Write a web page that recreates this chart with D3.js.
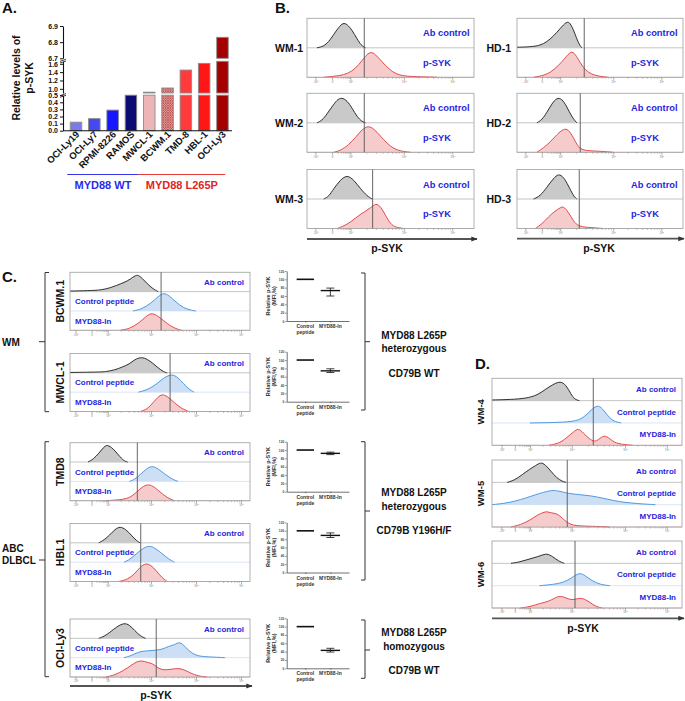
<!DOCTYPE html>
<html><head><meta charset="utf-8">
<script src="https://cdn.jsdelivr.net/npm/d3@7"></script>
<style>
body{margin:0;background:#fff}
svg{display:block}
text{font-family:Arial,"Liberation Sans",Helvetica,sans-serif;font-weight:bold}
</style>
</head><body>
<svg id="c" width="685" height="701"></svg>
<script>
// ---------------- DATA ----------------
// Panel A
const cellLines = ["OCI-Ly19","OCI-Ly7","RPMI-8226","RAMOS","MWCL-1","BCWM.1","TMD-8","HBL-1","OCI-Ly3"];
const pSykLevels = [0.12,0.17,0.29,0.50,0.92,1.02,1.45,1.61,6.83];
const barFills = ["#7b7be8","#4848f2","#1616ff","#0b0b72","#ecb6b6","url(#hatch)","#ff3c3c","#ff1616","#a40000"];
const yTicksLow = [0,0.1,0.2,0.3,0.4,0.5];
const yTicksMid = [1.0,1.2,1.4,1.6];
const yTicksTop = [6.7,6.8,6.9];
const groupWT = ["OCI-Ly19","RAMOS"];
const groupMut = ["MWCL-1","OCI-Ly3"];

// Panel B histograms ([position % of axis, relative height])
const bWM1Ab  = [[6,0],[10,0.05],[13,0.2],[16,0.45],[19,0.7],[21.6,0.85],[24,0.8],[27,0.6],[30,0.3],[32.5,0.08],[35,0]];
const bWM1Syk = [[10,0],[16,0.03],[22,0.08],[27,0.2],[31,0.42],[35,0.72],[38,0.88],[41,0.78],[45,0.52],[49,0.28],[53,0.12],[58,0.04],[66,0.02],[74,0.01],[78,0]];
const bWM2Ab  = [[6,0],[9,0.08],[12,0.3],[15,0.55],[18,0.78],[20.8,0.86],[24,0.75],[27,0.5],[30,0.2],[33,0.04],[35,0]];
const bWM2Syk = [[16,0],[20,0.06],[25,0.25],[29,0.5],[33,0.78],[36.7,0.9],[40,0.8],[44,0.55],[48,0.3],[52,0.12],[56,0.04],[62,0]];
const bWM3Ab  = [[10,0],[13,0.08],[16,0.35],[20,0.65],[24,0.82],[28,0.65],[32,0.35],[36,0.1],[39,0]];
const bWM3Syk = [[18,0],[22,0.08],[27,0.25],[31,0.45],[34.7,0.57],[38,0.7],[41.3,0.86],[44,0.75],[47,0.45],[50,0.15],[53,0.04],[58,0]];
const bHD1Ab  = [[0,0.02],[8,0.03],[14,0.08],[18,0.2],[22,0.4],[26,0.65],[29.9,0.9],[32,0.85],[34.5,0.55],[37,0.15],[39,0]];
const bHD1Syk = [[10,0],[15,0.05],[20,0.15],[25,0.4],[29,0.65],[32.5,0.9],[35,0.8],[38,0.5],[41,0.25],[45,0.1],[49,0.04],[55,0]];
const bHD2Ab  = [[12,0],[15,0.1],[18,0.35],[21,0.65],[24,0.85],[27,0.82],[30,0.55],[33,0.2],[36,0]];
const bHD2Syk = [[12,0],[16,0.15],[20,0.35],[24,0.6],[28,0.8],[31,0.78],[34,0.5],[37,0.15],[41,0.05],[50,0.04],[58,0]];
const bHD3Ab  = [[10,0],[14,0.1],[18,0.4],[22,0.7],[25,0.86],[28,0.75],[31,0.45],[34,0.1],[36,0]];
const bHD3Syk = [[11,0],[15,0.15],[19,0.4],[23,0.6],[26,0.7],[28,0.76],[31,0.55],[34,0.25],[37,0.06],[45,0.03],[52,0]];
const bGates  = [34.3,34.3,39.3,40.5,38.1,37.5];
const bNamesWM = ["WM-1","WM-2","WM-3"];
const bNamesHD = ["HD-1","HD-2","HD-3"];

// Panel C histograms
const cBCWMAb   = [[0,0.03],[10,0.05],[18,0.08],[24,0.25],[28,0.4],[32,0.55],[35,0.75],[37.5,0.9],[40,0.7],[43,0.4],[46,0.15],[49,0]];
const cBCWMCtrl = [[35,0],[40,0.1],[45,0.4],[49,0.75],[52,0.95],[55,0.8],[59,0.45],[63,0.15],[68,0.02],[70,0]];
const cBCWMMyd  = [[28,0],[33,0.08],[38,0.35],[42,0.7],[45,0.9],[48,0.8],[52,0.5],[56,0.2],[60,0.05],[62,0]];
const cMWCLAb   = [[0,0.02],[16,0.04],[20,0.06],[25,0.15],[29,0.3],[33,0.45],[36,0.7],[39.8,0.82],[43,0.7],[46,0.5],[49,0.25],[52,0.05],[54,0]];
const cMWCLCtrl = [[38,0],[43,0.12],[48,0.4],[52,0.75],[56.8,0.95],[60,0.75],[63,0.45],[66,0.15],[69,0]];
const cMWCLMyd  = [[39,0],[43,0.12],[46,0.45],[49,0.75],[51,0.9],[54,0.8],[58,0.45],[62,0.15],[66,0]];
const cTMDAb    = [[10,0],[13,0.15],[16,0.45],[19,0.8],[20.7,0.9],[24,0.7],[27,0.35],[30,0.05],[32,0]];
const cTMDCtrl  = [[33,0],[36,0.1],[39,0.35],[43,0.7],[46,0.8],[49,0.65],[53,0.35],[57,0.1],[60,0]];
const cTMDMyd   = [[20,0],[27,0.04],[33,0.12],[37,0.45],[40,0.7],[43,0.85],[46,0.78],[50,0.45],[54,0.15],[58,0]];
const cHBLAb    = [[16,0],[19,0.15],[22,0.4],[25,0.7],[27.8,0.85],[31,0.7],[34,0.4],[37,0.1],[39,0]];
const cHBLCtrl  = [[30,0],[33,0.12],[37,0.45],[41,0.75],[44,0.85],[47,0.75],[51,0.45],[55,0.15],[58,0]];
const cHBLMyd   = [[27,0],[32,0.1],[36,0.4],[39,0.75],[42,0.95],[45,0.85],[48,0.55],[51,0.2],[54,0]];
const cOCIAb    = [[16,0],[19,0.1],[22,0.3],[26,0.6],[30,0.8],[33,0.7],[36,0.4],[39,0.12],[42,0]];
const cOCICtrl  = [[30,0],[34,0.1],[38,0.3],[42,0.35],[47,0.38],[51,0.42],[55,0.6],[58,0.65],[61,0.85],[64,0.55],[68,0.2],[72,0.06],[80,0.03],[86,0]];
const cOCIMyd   = [[20,0],[25,0.1],[30,0.35],[34,0.6],[37,0.8],[40,0.85],[43,0.75],[46,0.7],[49,0.45],[52,0.35],[56,0.4],[60,0.45],[63,0.4],[67,0.2],[71,0.05],[76,0]];
const cGates    = [50.6,55.6,37.4,39.3,47.9];
const cNames    = ["BCWM.1","MWCL-1","TMD8","HBL1","OCI-Ly3"];

// Panel C dot plots (relative p-SYK, MFI %)
const dpGroups = ["Control peptide","MYD88-In"];
const dpTicks  = [0,20,40,60,80,100,120];
const relCtrl  = [100,100,100,100,100];
const relMyd   = [73,74,92,89,43];
const relLo    = [60,70,89,84,39];
const relHi    = [79,79,95,95,48];

// Panel D histograms
const dWM4Ab   = [[0,0.03],[10,0.05],[18,0.1],[24,0.25],[28,0.5],[32,0.72],[36,0.88],[39,0.7],[41.5,0.3],[43.5,0.05],[46,0]];
const dWM4Ctrl = [[20,0],[35,0.02],[45,0.08],[49,0.3],[53,0.65],[56,0.82],[59,0.55],[62,0.2],[65,0.05],[68,0]];
const dWM4Myd  = [[30,0],[36,0.1],[40,0.4],[43,0.6],[45.5,0.78],[48,0.55],[51,0.3],[54,0.15],[56,0.25],[59,0.47],[62,0.3],[65,0.08],[71,0.02],[74,0]];
const dWM5Ab   = [[8,0],[12,0.1],[16,0.35],[20,0.6],[23,0.75],[25.6,0.9],[28,0.8],[31,0.5],[34,0.2],[37,0.04],[39,0]];
const dWM5Ctrl = [[0,0],[6,0.05],[12,0.15],[18,0.3],[23,0.45],[27,0.55],[31.6,0.65],[34,0.62],[36,0.6],[40,0.5],[46,0.45],[52,0.4],[58,0.3],[64,0.18],[70,0.1],[76,0.05],[82,0.02],[86,0]];
const dWM5Myd  = [[10,0],[15,0.1],[20,0.3],[24,0.55],[27,0.65],[29,0.7],[31,0.62],[34,0.62],[37,0.4],[41,0.08],[48,0.04],[58,0.02],[62,0]];
const dWM6Ab   = [[10,0],[14,0.05],[18,0.15],[22,0.25],[26,0.35],[28.8,0.45],[32,0.3],[35,0.1],[38,0]];
const dWM6Ctrl = [[25,0],[32,0.05],[38,0.15],[42,0.35],[46,0.6],[49,0.45],[53,0.2],[57,0.05],[62,0]];
const dWM6Myd  = [[15,0],[20,0.06],[25,0.2],[30,0.3],[33,0.45],[36,0.55],[39,0.45],[42,0.35],[45,0.42],[47,0.45],[50,0.35],[53,0.15],[56,0.03],[58,0]];
const dGates   = [53.3,39.6,43.7];
const dNames   = ["WM-4","WM-5","WM-6"];

// Flow axis ticks (positions in % of axis) and labels
const flowMajorB = [5,15,26,58,87];
const flowMajorC = [3,12,21,45,70,95];
const flowMajorD = [5,12,20,42,70,92];
const flowTickLabels = ["-10³","0","10³","10⁴","10⁵","10⁶"];

// ---------------- DRAWING ----------------
const svg = d3.select("#c");
const defs = svg.append("defs");
const pat = defs.append("pattern").attr("id","hatch").attr("patternUnits","userSpaceOnUse").attr("width",2.4).attr("height",2.4);
pat.append("rect").attr("width",2.4).attr("height",2.4).attr("fill","#e9a4a4");
pat.append("path").attr("d","M0,0L2.4,2.4M2.4,0L0,2.4").attr("stroke","#b23a3a").attr("stroke-width",0.6);
defs.append("marker").attr("id","arr").attr("viewBox","0 0 10 10").attr("refX",9).attr("refY",5)
  .attr("markerWidth",3.5).attr("markerHeight",3.5).attr("orient","auto")
  .append("path").attr("d","M0,1L10,5L0,9z").attr("fill","#333");

const BLUE = "#1f1fe0";
function txt(g,x,y,s,size,opt={}) {
  return g.append("text").attr("x",x).attr("y",y).text(s).attr("font-size",size)
    .attr("fill",opt.fill||"#111").attr("text-anchor",opt.anchor||"start");
}

// Panel letters
txt(svg,2,13,"A.",15);
txt(svg,275,13,"B.",15);
txt(svg,2,282,"C.",15);
txt(svg,475,369,"D.",15);

// ===== Panel A =====
const gA = svg.append("g");
const xA = d3.scaleBand().domain(cellLines).range([66.6,231.9]).paddingInner(0.37).paddingOuter(0.2);
const segs = [
  {dom:[0,0.5], rng:[130.7,95.2], ticks:yTicksLow},
  {dom:[0.9,1.66], rng:[93,61.3], ticks:yTicksMid},
  {dom:[6.7,6.9], rng:[58.3,26], ticks:yTicksTop}
];
segs.forEach(s=>{ s.y = d3.scaleLinear().domain(s.dom).range(s.rng); });
cellLines.forEach((c,i)=>{
  const v = pSykLevels[i];
  segs.forEach(s=>{
    if (v > s.dom[0]) {
      const top = s.y(Math.min(v, s.dom[1]));
      gA.append("rect").attr("x",xA(c)).attr("width",xA.bandwidth())
        .attr("y",top).attr("height",s.y(s.dom[0])-top)
        .attr("fill",barFills[i]).attr("stroke","#8c8c8c").attr("stroke-width",0.9);
    }
  });
});
segs.forEach(s=>{
  const ax = gA.append("g").attr("transform","translate(63,0)")
    .call(d3.axisLeft(s.y).tickValues(s.ticks).tickFormat(d3.format(".1f")).tickSize(3).tickPadding(2).tickSizeOuter(0));
  ax.selectAll("text").attr("font-size",7).attr("fill","#111").attr("font-family","Arial, Liberation Sans").attr("font-weight","bold");
  ax.select(".domain").attr("stroke","#111").attr("stroke-width",1.1);
  ax.selectAll(".tick line").attr("stroke","#111");
});
// break marks
[[94.1],[59.8]].forEach(([yb])=>{
  gA.append("path").attr("d",`M60,${yb+1.5}L66,${yb-0.5}M60,${yb+3.2}L66,${yb+1.2}`).attr("stroke","#111").attr("stroke-width",0.8);
});
gA.append("line").attr("x1",63).attr("x2",232).attr("y1",130.7).attr("y2",130.7).attr("stroke","#111").attr("stroke-width",1.1);
cellLines.forEach(c=>{
  const cx = xA(c)+xA.bandwidth()/2;
  gA.append("text").attr("transform",`translate(${cx+4},${135}) rotate(-45)`)
    .attr("text-anchor","end").attr("font-size",9.5).attr("fill","#111").text(c);
});
const gx0 = xA(groupWT[0])-3, gx1 = xA(groupWT[1])+xA.bandwidth()+2;
const rx0 = xA(groupMut[0])-5, rx1 = xA(groupMut[1])+xA.bandwidth()-3;
gA.append("line").attr("x1",gx0).attr("x2",gx1).attr("y1",174.5).attr("y2",174.5).attr("stroke","#3535e6").attr("stroke-width",1.2);
gA.append("line").attr("x1",rx0).attr("x2",rx1).attr("y1",174.5).attr("y2",174.5).attr("stroke","#e33a3a").attr("stroke-width",1.2);
txt(gA,(gx0+gx1)/2,188.5,"MYD88 WT",11,{anchor:"middle",fill:"#2a2aea"});
txt(gA,(rx0+rx1)/2,188.5,"MYD88 L265P",11,{anchor:"middle",fill:"#e02424"});
gA.append("text").attr("transform","translate(20,78) rotate(-90)").attr("text-anchor","middle").attr("font-size",10.5).attr("fill","#111").text("Relative levels of");
gA.append("text").attr("transform","translate(33,78) rotate(-90)").attr("text-anchor","middle").attr("font-size",10.5).attr("fill","#111").text("p-SYK");

// ===== Flow box helper =====
const styles = {
  ab:   {fill:"#c6c6c6", stroke:"#1a1a1a", base:"#b5b5b5"},
  red:  {fill:"#f6c8c8", stroke:"#e0393b", base:"#d9b0b0"},
  blue: {fill:"#c9ddf3", stroke:"#3f8fde", base:"#cfe0f4"}
};
function flowBox(g,o){
  const x = d3.scaleLinear().domain([0,100]).range([o.x,o.x+o.w]);
  const n = o.rows.length, rh = o.h/n;
  o.rows.forEach((r,i)=>{
    const y0 = o.y + rh*(i+1);
    const y = d3.scaleLinear().domain([0,1]).range([y0,y0-rh]);
    const st = styles[r.type];
    g.append("line").attr("x1",o.x).attr("x2",o.x+o.w).attr("y1",y0).attr("y2",y0).attr("stroke",st.base).attr("stroke-width",0.8);
    g.append("path").datum(r.data).attr("fill",st.fill).attr("opacity",0.95)
      .attr("d",d3.area().x(d=>x(d[0])).y0(y0).y1(d=>y(d[1])).curve(d3.curveBasis));
    g.append("path").datum(r.data).attr("fill","none").attr("stroke",st.stroke).attr("stroke-width",0.9)
      .attr("d",d3.line().x(d=>x(d[0])).y(d=>y(d[1])).curve(d3.curveBasis));
    if (r.label) {
      const lx = r.align==="end" ? o.x+o.w-6 : (r.lx!==undefined ? x(r.lx) : o.x+5);
      txt(g,lx,y0-rh/2+o.fs*0.36,r.label,o.fs,{fill:BLUE,anchor:r.align||"start"});
    }
  });
  g.append("rect").attr("x",o.x).attr("y",o.y).attr("width",o.w).attr("height",o.h).attr("fill","none").attr("stroke","#a8a8a8").attr("stroke-width",0.9);
  g.append("line").attr("x1",x(o.gate)).attr("x2",x(o.gate)).attr("y1",o.y).attr("y2",o.y+o.h).attr("stroke","#555").attr("stroke-width",0.9);
  // axis ticks
  const majors = o.majors;
  const minors = [];
  for (let k=2;k<majors.length;k++){
    const a = majors[k-1], b = majors[k];
    for (let m=2;m<10;m++) minors.push(a + (b-a)*Math.log10(m));
  }
  const axMin = g.append("g").attr("transform",`translate(0,${o.y+o.h})`)
    .call(d3.axisBottom(x).tickValues(minors).tickSize(1.5).tickFormat(""));
  axMin.select(".domain").remove();
  axMin.selectAll(".tick line").attr("stroke","#999").attr("stroke-width",0.6);
  const axMaj = g.append("g").attr("transform",`translate(0,${o.y+o.h})`)
    .call(d3.axisBottom(x).tickValues(majors).tickSize(2.5).tickFormat((d,i)=>flowTickLabels[i]).tickPadding(1));
  axMaj.select(".domain").remove();
  axMaj.selectAll(".tick line").attr("stroke","#888").attr("stroke-width",0.7);
  axMaj.selectAll("text").attr("font-size",2.8).attr("fill","#999").attr("font-weight","normal");
}
function arrowAxis(x1,x2,y,labelX,labelY){
  svg.append("line").attr("x1",x1).attr("x2",x2).attr("y1",y).attr("y2",y).attr("stroke","#555").attr("stroke-width",1.8).attr("marker-end","url(#arr)");
  txt(svg,labelX,labelY,"p-SYK",10.5,{anchor:"middle"});
}

// ===== Panel B =====
const gB = svg.append("g");
const bLeftRows = [[bWM1Ab,bWM1Syk],[bWM2Ab,bWM2Syk],[bWM3Ab,bWM3Syk]];
const bRightRows = [[bHD1Ab,bHD1Syk],[bHD2Ab,bHD2Syk],[bHD3Ab,bHD3Syk]];
const bTops = [18.3,93.3,169.5];
bTops.forEach((t,i)=>{
  flowBox(gB,{x:307,y:t,w:167,h:59,fs:9.3,gate:bGates[i],majors:flowMajorB,
    rows:[{type:"ab",data:bLeftRows[i][0],label:"Ab control",lx:69.5},{type:"red",data:bLeftRows[i][1],label:"p-SYK",lx:69.5}]});
  txt(gB,303,t+29.5+3.8,bNamesWM[i],10.5,{anchor:"end"});
  flowBox(gB,{x:517,y:t,w:166,h:59,fs:9.3,gate:bGates[i+3],majors:flowMajorB,
    rows:[{type:"ab",data:bRightRows[i][0],label:"Ab control",lx:68.7},{type:"red",data:bRightRows[i][1],label:"p-SYK",lx:68.7}]});
  txt(gB,511,t+29.5+3.8,bNamesHD[i],10.5,{anchor:"end"});
});
arrowAxis(307,477,239,387,252);
arrowAxis(517,684,238.7,599,252);

// ===== Panel C =====
const gC = svg.append("g");
const cRows = [[cBCWMAb,cBCWMCtrl,cBCWMMyd],[cMWCLAb,cMWCLCtrl,cMWCLMyd],[cTMDAb,cTMDCtrl,cTMDMyd],[cHBLAb,cHBLCtrl,cHBLMyd],[cOCIAb,cOCICtrl,cOCIMyd]];
const cTops = [272.3,353.5,442.7,523.5,619];
cTops.forEach((t,i)=>{
  flowBox(gC,{x:70,y:t,w:180,h:58,fs:8,gate:cGates[i],majors:flowMajorC,
    rows:[{type:"ab",data:cRows[i][0],label:"Ab control",lx:74.5},
          {type:"blue",data:cRows[i][1],label:"Control peptide"},
          {type:"red",data:cRows[i][2],label:"MYD88-In"}]});
  gC.append("text").attr("transform",`translate(63.5,${t+29}) rotate(-90)`).attr("text-anchor","middle")
    .attr("font-size",10.5).attr("fill","#111").text(cNames[i]);
});
arrowAxis(70,252,686,156,699);
// left brackets
function bracketL(y1,y2,ym){
  gC.append("path").attr("d",`M49,${y1}H45V${y2}H49M45,${ym}H39`).attr("fill","none").attr("stroke","#333").attr("stroke-width",1);
}
bracketL(272.5,411.7,341.7);
bracketL(441.7,676.7,560);
txt(gC,2,345.5,"WM",10);
txt(gC,2,551.5,"ABC",10);
txt(gC,2,564,"DLBCL",10);
// right brackets & texts
function bracketR(y1,y2,ym){
  gC.append("path").attr("d",`M361,${y1}H365V${y2}H361M365,${ym}H370`).attr("fill","none").attr("stroke","#333").attr("stroke-width",1);
}
bracketR(273,410,341.7);
bracketR(441.7,580,511);
bracketR(620,678.3,650);
[[338.5,"MYD88 L265P"],[352,"heterozygous"],[377,"CD79B WT"],
 [496,"MYD88 L265P"],[509.5,"heterozygous"],[533.5,"CD79B Y196H/F"],
 [636,"MYD88 L265P"],[649.5,"homozygous"],[673.5,"CD79B WT"]].forEach(([y,s])=>txt(gC,414,y,s,10,{anchor:"middle"}));

// dot plots
const xDP = d3.scalePoint().domain(dpGroups).range([286.7,349]).padding(0.745);
const dpTops = [271,351.7,441.7,522.5,618.3];
dpTops.forEach((top,i)=>{
  const y = d3.scaleLinear().domain([0,120]).range([top+50,top]);
  const g = gC.append("g");
  const ay = g.append("g").attr("transform","translate(286.7,0)")
    .call(d3.axisLeft(y).tickValues(dpTicks).tickSize(1.5).tickPadding(1).tickSizeOuter(0));
  ay.selectAll("text").attr("font-size",3.2).attr("fill","#444");
  ay.select(".domain").attr("stroke","#333").attr("stroke-width",0.7);
  ay.selectAll(".tick line").attr("stroke","#333").attr("stroke-width",0.6);
  const ax = g.append("g").attr("transform",`translate(0,${y(0)})`)
    .call(d3.axisBottom(xDP).tickSize(1.5).tickFormat("").tickSizeOuter(0));
  ax.select(".domain").attr("stroke","#333").attr("stroke-width",0.7);
  ax.selectAll(".tick line").attr("stroke","#333").attr("stroke-width",0.6);
  const c0 = xDP(dpGroups[0]), c1 = xDP(dpGroups[1]);
  g.append("line").attr("x1",c0-8.7).attr("x2",c0+8.7).attr("y1",y(relCtrl[i])).attr("y2",y(relCtrl[i])).attr("stroke","#111").attr("stroke-width",1.6);
  g.append("line").attr("x1",c1-9.7).attr("x2",c1+9.7).attr("y1",y(relMyd[i])).attr("y2",y(relMyd[i])).attr("stroke","#111").attr("stroke-width",1.4);
  g.append("path").attr("d",`M${c1-4},${y(relHi[i])}H${c1+4}M${c1},${y(relHi[i])}V${y(relLo[i])}M${c1-4},${y(relLo[i])}H${c1+4}`)
    .attr("fill","none").attr("stroke","#111").attr("stroke-width",0.8);
  txt(g,c0,y(0)+7,"Control",5,{anchor:"middle",fill:"#333"});
  txt(g,c0,y(0)+13,"peptide",5,{anchor:"middle",fill:"#333"});
  txt(g,c1,y(0)+7,"MYD88-In",5,{anchor:"middle",fill:"#333"});
  g.append("text").attr("transform",`translate(269.5,${top+25}) rotate(-90)`).attr("text-anchor","middle").attr("font-size",5.5).attr("fill","#333").text("Relative p-SYK");
  g.append("text").attr("transform",`translate(275.5,${top+25}) rotate(-90)`).attr("text-anchor","middle").attr("font-size",5.5).attr("fill","#333").text("(MFI,%)");
});

// ===== Panel D =====
const gD = svg.append("g");
const dRows = [[dWM4Ab,dWM4Ctrl,dWM4Myd],[dWM5Ab,dWM5Ctrl,dWM5Myd],[dWM6Ab,dWM6Ctrl,dWM6Myd]];
const dTops = [378.3,460,541];
dTops.forEach((t,i)=>{
  flowBox(gD,{x:492,y:t,w:190,h:67,fs:8,gate:dGates[i],majors:flowMajorD,
    rows:[{type:"ab",data:dRows[i][0],label:"Ab control",align:"end"},
          {type:"blue",data:dRows[i][1],label:"Control peptide",align:"end"},
          {type:"red",data:dRows[i][2],label:"MYD88-In",align:"end"}]});
  gD.append("text").attr("transform",`translate(483.5,${t+33.5}) rotate(-90)`).attr("text-anchor","middle")
    .attr("font-size",9.5).attr("fill","#111").text(dNames[i]);
});
arrowAxis(492,684,618.3,583,632);
</script>
</body></html>
